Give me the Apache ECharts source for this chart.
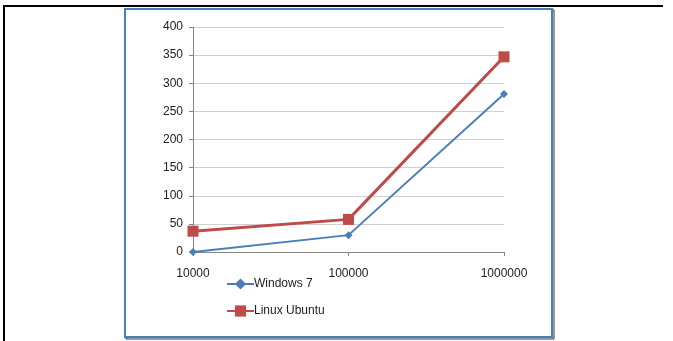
<!DOCTYPE html>
<html>
<head>
<meta charset="utf-8">
<script src="https://cdn.jsdelivr.net/npm/echarts@6/dist/echarts.min.js"></script>
<style>
html,body{margin:0;padding:0;background:#fff;}
#c{width:673px;height:341px;}
</style>
</head>
<body>
<div id="c"></div>
<script>
var categories = ['10000', '100000', '1000000'];
var windows7 = [0, 30, 281];
var linuxUbuntu = [37, 58, 347];
var seriesNames = ['Windows 7', 'Linux Ubuntu'];

var chart = echarts.init(document.getElementById('c'), null, {renderer: 'canvas'});
var font = 'Liberation Sans';
chart.setOption({
  animation: false,
  backgroundColor: '#fff',
  graphic: [
    {type: 'rect', shape: {x: 3, y: 5, width: 660, height: 2}, style: {fill: '#000'}, z: 0},
    {type: 'rect', shape: {x: 3, y: 5, width: 2, height: 340}, style: {fill: '#000'}, z: 0},
    {type: 'rect', shape: {x: 126, y: 10, width: 428, height: 329}, style: {fill: 'none', stroke: '#333', lineWidth: 1}, z: 0},
    {type: 'rect', shape: {x: 125, y: 9, width: 427, height: 328}, style: {fill: '#fff', stroke: '#4a7ebb', lineWidth: 2}, z: 0}
  ],
  grid: {left: 193, right: 169, top: 27, bottom: 89, containLabel: false},
  legend: {
    orient: 'vertical',
    left: 221, top: 273,
    itemWidth: 27, itemHeight: 14, itemGap: 15,
    data: seriesNames,
    textStyle: {fontFamily: font, fontSize: 12, color: '#222', padding: [0, 0, 0, -5]}
  },
  xAxis: {
    type: 'category',
    data: categories,
    boundaryGap: false,
    axisLine: {lineStyle: {color: '#868686', width: 1}},
    axisTick: {show: true, length: 4, inside: false, lineStyle: {color: '#868686'}},
    axisLabel: {margin: 16, fontFamily: font, fontSize: 12, color: '#222'},
    splitLine: {show: false}
  },
  yAxis: {
    type: 'value',
    min: 0, max: 400, interval: 50,
    axisLine: {show: true, lineStyle: {color: '#868686', width: 1}},
    axisTick: {show: true, length: 4, lineStyle: {color: '#868686'}},
    axisLabel: {margin: 10, fontFamily: font, fontSize: 12, color: '#222'},
    splitLine: {show: true, lineStyle: {color: '#d0d0d0', width: 1}}
  },
  series: [
    {
      name: seriesNames[0], type: 'line', data: windows7,
      symbol: 'diamond', symbolSize: 8,
      lineStyle: {color: '#4a7ebb', width: 2},
      itemStyle: {color: '#4a7ebb'},
      z: 3
    },
    {
      name: seriesNames[1], type: 'line', data: linuxUbuntu,
      symbol: 'rect', symbolSize: 11,
      lineStyle: {color: '#be4b48', width: 3},
      itemStyle: {color: '#be4b48'},
      z: 4
    }
  ]
});
</script>
</body>
</html>
